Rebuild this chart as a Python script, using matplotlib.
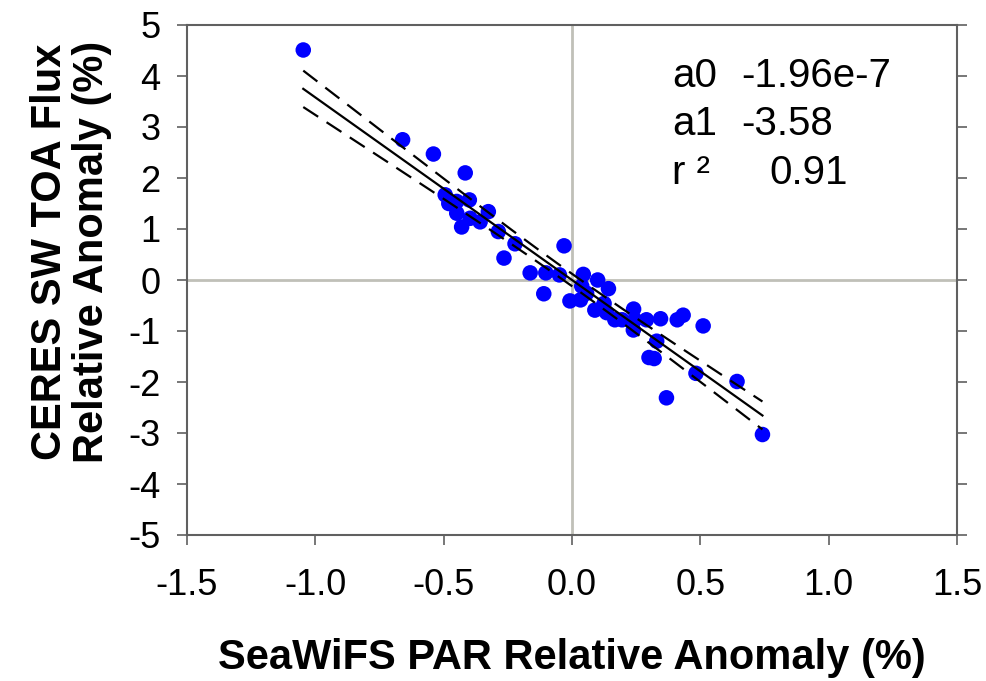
import numpy as np
import matplotlib
matplotlib.use("Agg")
import matplotlib.pyplot as plt

# Data
par_anom = [-1.047, -0.66, -0.54, -0.416, -0.494, -0.48, -0.449, -0.40, -0.449, -0.397,
            -0.358, -0.326, -0.43, -0.287, -0.222, -0.265, -0.031, -0.163, -0.102, -0.049,
            -0.11, -0.008, 0.044, 0.10, 0.142, 0.038, 0.057, 0.033, 0.089, 0.125,
            0.135, 0.167, 0.195, 0.24, 0.245, 0.239, 0.29, 0.345, 0.41, 0.433,
            0.511, 0.33, 0.30, 0.32, 0.483, 0.643, 0.368, 0.742]
ceres_anom = [4.51, 2.75, 2.47, 2.10, 1.67, 1.50, 1.54, 1.57, 1.31, 1.21,
              1.14, 1.34, 1.04, 0.95, 0.71, 0.43, 0.67, 0.14, 0.14, 0.10,
              -0.27, -0.41, 0.11, 0.0, -0.17, -0.12, -0.26, -0.39, -0.59, -0.46,
              -0.64, -0.78, -0.78, -0.57, -0.78, -0.98, -0.78, -0.76, -0.78, -0.69,
              -0.90, -1.20, -1.52, -1.54, -1.83, -1.99, -2.31, -3.03]
a0 = -1.96e-7
a1 = -3.58
r2 = 0.91
xticks = [-1.5, -1.0, -0.5, 0.0, 0.5, 1.0, 1.5]
yticks = [-5, -4, -3, -2, -1, 0, 1, 2, 3, 4, 5]

plt.rcParams['font.family'] = ['Liberation Sans', 'DejaVu Sans']

fig = plt.figure(figsize=(9.87, 6.81), dpi=100)
ax = fig.add_axes([187/987, 1-535/681, (957-187)/987, (535-25)/681])

x = np.asarray(par_anom)
y = np.asarray(ceres_anom)

ax.axhline(0, color='#c0c0b8', lw=2, zorder=1)
ax.axvline(0, color='#c0c0b8', lw=2, zorder=1)

# regression line + 95% confidence band
xs = np.linspace(x.min(), x.max(), 200)
yfit = a0 + a1 * xs
n = len(x)
resid = y - (a0 + a1 * x)
s = np.sqrt(np.sum(resid**2) / (n - 2))
sxx = np.sum((x - x.mean())**2)
hw = 2.01 * s * np.sqrt(1.0/n + (xs - x.mean())**2 / sxx)

ax.scatter(x, y, s=125, color='#0000ff', edgecolors='none', zorder=3)
ax.plot(xs, yfit, color='black', lw=1.6, zorder=4)
ax.plot(xs, yfit + hw, color='black', lw=1.6, dashes=(8, 4.5), zorder=4)
ax.plot(xs, yfit - hw, color='black', lw=1.6, dashes=(8, 4.5), zorder=4)

ax.set_xlim(-1.5, 1.5)
ax.set_ylim(-5, 5)
ax.set_xticks(xticks)
ax.set_xticklabels([f"{v:.1f}" for v in xticks])
ax.set_yticks(yticks)
ax.set_yticklabels([str(v) for v in yticks])
ax.tick_params(axis='both', labelsize=26, length=7, width=1.2, color='#606060',
               direction='out')
ax.tick_params(axis='x', pad=17)
ax.tick_params(axis='y', pad=12, right=True)
for sp in ax.spines.values():
    sp.set_color('#606060')
    sp.set_linewidth(1.5)

ax.set_xlabel('SeaWiFS PAR Relative Anomaly (%)', fontsize=30, fontweight='bold', labelpad=25)
ax.set_ylabel('CERES SW TOA Flux\nRelative Anomaly (%)', fontsize=30, fontweight='bold',
              linespacing=1.05)
ax.yaxis.set_label_coords(-0.098, 0.555)

kw = dict(fontsize=29, va='center', ha='left')
ax.text(0.389, 4.0, 'a0', **kw)
ax.text(0.661, 4.0, f'{a0:.2e}'.replace('e-07', 'e-7'), **kw)
ax.text(0.389, 3.05, 'a1', **kw)
ax.text(0.661, 3.05, f'{a1:.2f}', **kw)
ax.text(0.389, 2.1, 'r ²', **kw)
ax.text(0.77, 2.1, f'{r2:.2f}', **kw)

fig.savefig('out.png', dpi=100)
